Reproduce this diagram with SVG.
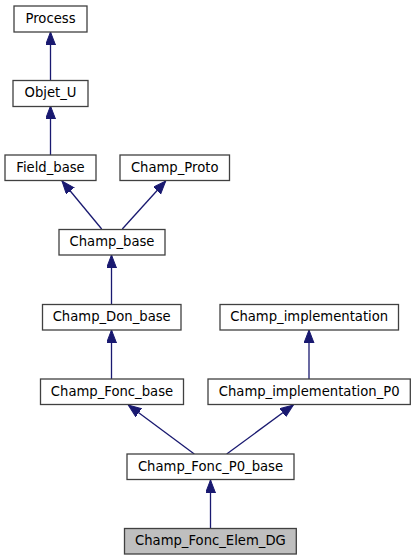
<svg xmlns="http://www.w3.org/2000/svg" width="416" height="560" viewBox="0 0 416 560">
<style>
.node rect{fill:#ffffff;stroke:#404040;stroke-width:1.3}
.node.cur rect{fill:#bfbfbf}
.node text{font-family:"DejaVu Sans",sans-serif;font-size:13.2px;text-anchor:middle;fill:#000000}
.edges line{stroke:#191970;stroke-width:1.3;marker-end:url(#arr)}
</style>
<defs>
<marker id="arr" markerUnits="userSpaceOnUse" markerWidth="14" markerHeight="11" refX="13" refY="5" orient="auto">
<path d="M0,0 L13,5 L0,10 Z" fill="#191970" stroke="#191970" stroke-width="1"/>
</marker>
</defs>
<rect width="416" height="560" fill="#ffffff"/>
<g class="edges" id="edges">
<line x1="50.5" y1="80" x2="50.5" y2="32"/>
<line x1="50.5" y1="155" x2="50.5" y2="106"/>
<line x1="101.7" y1="229" x2="62" y2="181"/>
<line x1="122.3" y1="229" x2="165.7" y2="181"/>
<line x1="111.5" y1="304" x2="111.5" y2="255"/>
<line x1="111.5" y1="379" x2="111.5" y2="330"/>
<line x1="309" y1="379" x2="309" y2="330"/>
<line x1="194.3" y1="454" x2="128.3" y2="405"/>
<line x1="226.7" y1="454" x2="293.3" y2="405"/>
<line x1="210.5" y1="528" x2="210.5" y2="480"/>
</g>
<g class="node" id="Process"><rect x="14" y="6" width="73" height="26"/><text x="50.5" y="22.5">Process</text></g>
<g class="node" id="Objet_U"><rect x="13" y="80.5" width="75" height="26"/><text x="50.5" y="97">Objet_U</text></g>
<g class="node" id="Field_base"><rect x="5" y="155" width="91" height="25.5"/><text x="50.5" y="171.5">Field_base</text></g>
<g class="node" id="Champ_Proto"><rect x="120" y="155" width="109.5" height="25.5"/><text x="174.7" y="171.5">Champ_Proto</text></g>
<g class="node" id="Champ_base"><rect x="59" y="229.5" width="106" height="25.5"/><text x="112" y="246">Champ_base</text></g>
<g class="node" id="Champ_Don_base"><rect x="42.5" y="304.5" width="138.5" height="25.5"/><text x="111.7" y="321">Champ_Don_base</text></g>
<g class="node" id="Champ_implementation"><rect x="220" y="304.5" width="178.5" height="25.5"/><text x="309.2" y="321">Champ_implementation</text></g>
<g class="node" id="Champ_Fonc_base"><rect x="40.5" y="379" width="143" height="25.5"/><text x="112" y="395.7">Champ_Fonc_base</text></g>
<g class="node" id="Champ_implementation_P0"><rect x="208" y="379" width="202.3" height="25.5"/><text x="309.2" y="395.7">Champ_implementation_P0</text></g>
<g class="node" id="Champ_Fonc_P0_base"><rect x="127" y="454" width="167" height="25.5"/><text x="210.5" y="470.5">Champ_Fonc_P0_base</text></g>
<g class="node cur" id="Champ_Fonc_Elem_DG"><rect x="124.5" y="528.5" width="171.8" height="25.5"/><text x="210.4" y="545">Champ_Fonc_Elem_DG</text></g>
</svg>
